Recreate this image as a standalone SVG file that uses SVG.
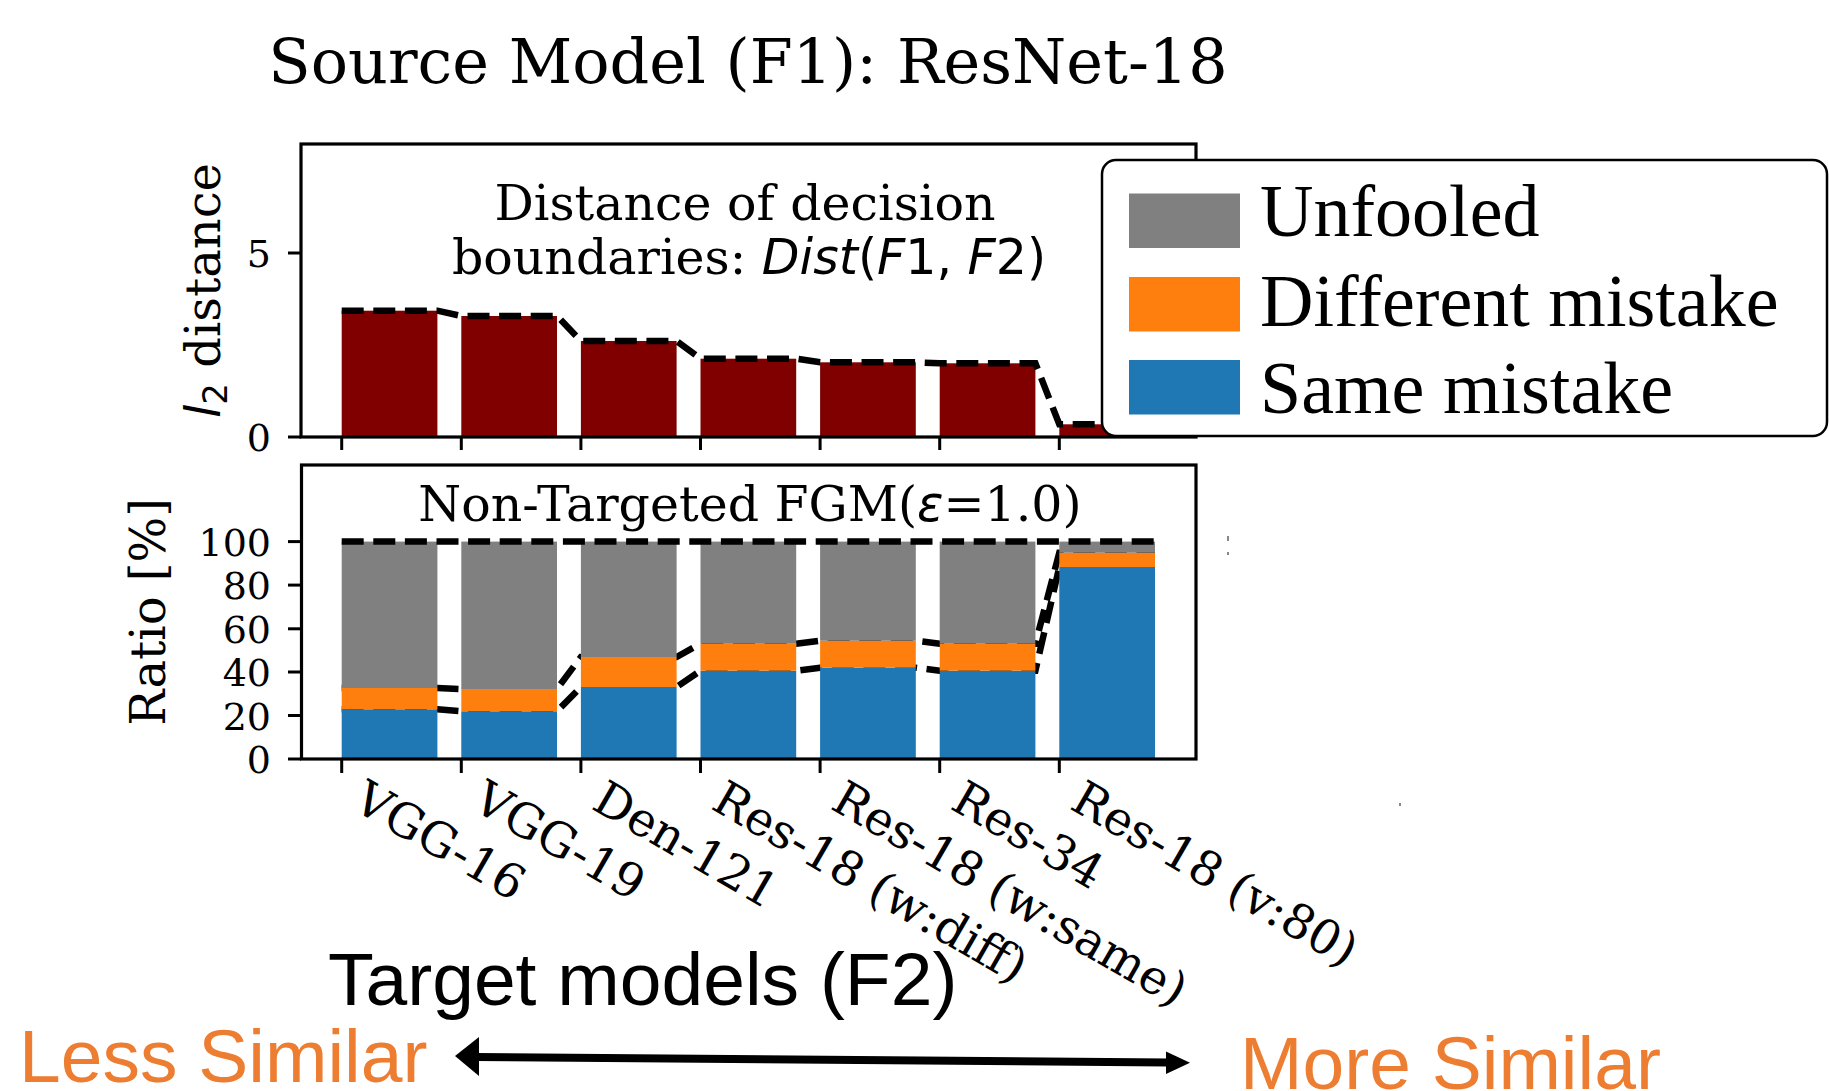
<svg xmlns="http://www.w3.org/2000/svg" width="1829" height="1091" viewBox="0 0 1829 1091">
<style>
  .serif{font-family:"DejaVu Serif",serif}
  .math{font-family:"DejaVu Sans",sans-serif;font-style:italic}
  .up{font-family:"DejaVu Sans",sans-serif;font-style:normal}
  .ytl{font-family:"DejaVu Serif",serif;font-size:38px;text-anchor:end}
  .xtl{font-family:"DejaVu Serif",serif;font-size:47.5px}
  .leg{font-family:"Liberation Serif","Times New Roman",serif;font-size:74px}
  .sans{font-family:"Liberation Sans",Arial,sans-serif}
  .accent{fill:#ED7D31}
  .spine{fill:none;stroke:#000;stroke-width:3.2}
  .tk{stroke:#000;stroke-width:3}
  .dash{fill:none;stroke:#000;stroke-width:6.5;stroke-dasharray:22 9.6}
  .red{fill:#800000}
  .gray{fill:#808080}
  .org{fill:#ff7f0e}
  .blue{fill:#1f77b4}
</style>
<rect width="1829" height="1091" fill="#fff"/>

<!-- title -->
<text id="title" class="serif" font-size="62" x="748" y="83" text-anchor="middle">Source Model (F1): ResNet-18</text>

<!-- upper panel: decision-boundary distance -->
<g id="panel-distance">
  <g id="dist-bars" class="red">
    <rect x="341.7" y="310.7" width="95.7" height="126.3"/>
    <rect x="461.3" y="316" width="95.7" height="121"/>
    <rect x="580.9" y="341" width="95.7" height="96"/>
    <rect x="700.5" y="358.7" width="95.7" height="78.3"/>
    <rect x="820.1" y="362.3" width="95.7" height="74.7"/>
    <rect x="939.7" y="363.3" width="95.7" height="73.7"/>
    <rect x="1059.3" y="424.3" width="95.7" height="12.7"/>
  </g>
  <path class="dash" d="M341.7,310.7 H437.4 L461.3,316 H557 L580.9,341 H676.6 L700.5,358.7 H796.2 L820.1,362.3 H915.8 L939.7,363.3 H1035.4 L1059.3,424.3 H1155"/>
  <rect class="spine" x="301" y="144" width="895" height="293"/>
  <g id="dist-yticks">
    <line class="tk" x1="288" y1="253" x2="301" y2="253"/>
    <line class="tk" x1="288" y1="437" x2="301" y2="437"/>
    <text class="ytl" x="271" y="267">5</text>
    <text class="ytl" x="271" y="451">0</text>
  </g>
  <g id="dist-xticks">
    <line class="tk" x1="341.7" y1="437" x2="341.7" y2="450"/>
    <line class="tk" x1="461.3" y1="437" x2="461.3" y2="450"/>
    <line class="tk" x1="580.9" y1="437" x2="580.9" y2="450"/>
    <line class="tk" x1="700.5" y1="437" x2="700.5" y2="450"/>
    <line class="tk" x1="820.1" y1="437" x2="820.1" y2="450"/>
    <line class="tk" x1="939.7" y1="437" x2="939.7" y2="450"/>
    <line class="tk" x1="1059.3" y1="437" x2="1059.3" y2="450"/>
  </g>
  <text class="serif" font-size="48" text-anchor="middle" transform="translate(220 290.5) rotate(-90)"><tspan class="math">l</tspan><tspan class="up" font-size="34" dy="7">2</tspan><tspan dy="-7"> distance</tspan></text>
  <text class="serif" font-size="49" x="745" y="220" text-anchor="middle">Distance of decision</text>
  <text class="serif" font-size="49" x="749" y="274" text-anchor="middle">boundaries: <tspan class="math">Dist</tspan><tspan class="up">(</tspan><tspan class="math">F</tspan><tspan class="up">1, </tspan><tspan class="math">F</tspan><tspan class="up">2)</tspan></text>
</g>

<!-- lower panel: stacked ratios -->
<g id="panel-ratio">
  <g id="ratio-guides-under">
    <path class="dash" d="M341.7,709.3 H437.4 L461.3,711.3 H557 L580.9,687 H676.6 L700.5,670.7 H796.2 L820.1,667.7 H915.8 L939.7,670.7 H1035.4 L1059.3,567 H1155"/>
    <path class="dash" d="M341.7,688 H437.4 L461.3,689 H557 L580.9,657 H676.6 L700.5,643.7 H796.2 L820.1,640.7 H915.8 L939.7,643.7 H1035.4 L1059.3,552.7 H1155"/>
  </g>
  <g id="ratio-same" class="blue">
    <rect x="341.7" y="709.3" width="95.7" height="49.7"/>
    <rect x="461.3" y="711.3" width="95.7" height="47.7"/>
    <rect x="580.9" y="687" width="95.7" height="72"/>
    <rect x="700.5" y="670.7" width="95.7" height="88.3"/>
    <rect x="820.1" y="667.7" width="95.7" height="91.3"/>
    <rect x="939.7" y="670.7" width="95.7" height="88.3"/>
    <rect x="1059.3" y="567" width="95.7" height="192"/>
  </g>
  <g id="ratio-different" class="org">
    <rect x="341.7" y="688" width="95.7" height="21.3"/>
    <rect x="461.3" y="689" width="95.7" height="22.3"/>
    <rect x="580.9" y="657" width="95.7" height="30"/>
    <rect x="700.5" y="643.7" width="95.7" height="27"/>
    <rect x="820.1" y="640.7" width="95.7" height="27"/>
    <rect x="939.7" y="643.7" width="95.7" height="27"/>
    <rect x="1059.3" y="552.7" width="95.7" height="14.3"/>
  </g>
  <g id="ratio-unfooled" class="gray">
    <rect x="341.7" y="541.6" width="95.7" height="146.4"/>
    <rect x="461.3" y="541.6" width="95.7" height="147.4"/>
    <rect x="580.9" y="541.6" width="95.7" height="115.4"/>
    <rect x="700.5" y="541.6" width="95.7" height="102.1"/>
    <rect x="820.1" y="541.6" width="95.7" height="99.1"/>
    <rect x="939.7" y="541.6" width="95.7" height="102.1"/>
    <rect x="1059.3" y="541.6" width="95.7" height="11.1"/>
  </g>
  <path class="dash" d="M341.7,541.6 H1155"/>
  <rect class="spine" x="301.5" y="465" width="894.5" height="294"/>
  <g id="ratio-yticks">
    <line class="tk" x1="288" y1="759" x2="301" y2="759"/>
    <line class="tk" x1="288" y1="715.5" x2="301" y2="715.5"/>
    <line class="tk" x1="288" y1="672" x2="301" y2="672"/>
    <line class="tk" x1="288" y1="628.8" x2="301" y2="628.8"/>
    <line class="tk" x1="288" y1="585.1" x2="301" y2="585.1"/>
    <line class="tk" x1="288" y1="541.6" x2="301" y2="541.6"/>
    <text class="ytl" x="271" y="773">0</text>
    <text class="ytl" x="271" y="729.5">20</text>
    <text class="ytl" x="271" y="686">40</text>
    <text class="ytl" x="271" y="642.8">60</text>
    <text class="ytl" x="271" y="599.1">80</text>
    <text class="ytl" x="271" y="555.6">100</text>
  </g>
  <g id="ratio-xticks">
    <line class="tk" x1="341.7" y1="759" x2="341.7" y2="773"/>
    <line class="tk" x1="461.3" y1="759" x2="461.3" y2="773"/>
    <line class="tk" x1="580.9" y1="759" x2="580.9" y2="773"/>
    <line class="tk" x1="700.5" y1="759" x2="700.5" y2="773"/>
    <line class="tk" x1="820.1" y1="759" x2="820.1" y2="773"/>
    <line class="tk" x1="939.7" y1="759" x2="939.7" y2="773"/>
    <line class="tk" x1="1059.3" y1="759" x2="1059.3" y2="773"/>
  </g>
  <text class="serif" font-size="48" text-anchor="middle" transform="translate(165 612) rotate(-90)">Ratio [%]</text>
  <text class="serif" font-size="49" x="750" y="521" text-anchor="middle">Non-Targeted FGM(<tspan class="math">ε</tspan>=1.0)</text>
  <g id="model-labels" class="xtl">
    <text transform="translate(350.7 808) rotate(30)">VGG-16</text>
    <text transform="translate(470.3 808) rotate(30)">VGG-19</text>
    <text transform="translate(589.9 808) rotate(30)">Den-121</text>
    <text transform="translate(709.5 808) rotate(30)">Res-18 (w:diff)</text>
    <text transform="translate(829.1 808) rotate(30)">Res-18 (w:same)</text>
    <text transform="translate(948.7 808) rotate(30)">Res-34</text>
    <text transform="translate(1068.3 808) rotate(30)">Res-18 (v:80)</text>
  </g>
</g>

<!-- legend -->
<g id="legend">
  <rect x="1102" y="160" width="725" height="276" rx="14" fill="#fff" stroke="#000" stroke-width="2.5"/>
  <rect class="gray" x="1129" y="193.5" width="111" height="54.5"/>
  <rect class="org" x="1129" y="277" width="111" height="54.5"/>
  <rect class="blue" x="1129" y="360" width="111" height="54.5"/>
  <text class="leg" x="1260" y="236">Unfooled</text>
  <text class="leg" x="1260" y="326">Different mistake</text>
  <text class="leg" x="1260" y="413">Same mistake</text>
</g>

<!-- axis caption and similarity scale -->
<text id="target-caption" class="sans" font-size="75" x="328" y="1005">Target models (F2)</text>
<text id="less-similar" class="sans accent" font-size="75" x="19" y="1082">Less Similar</text>
<text id="more-similar" class="sans accent" font-size="75" x="1240" y="1089">More Similar</text>
<g id="connectors">
  <line x1="475" y1="1057" x2="1168" y2="1062.5" stroke="#000" stroke-width="8"/>
  <polygon points="455,1056 479,1037 479,1076" fill="#000"/>
  <polygon points="1190,1062.7 1166,1051.5 1166,1074" fill="#000"/>
</g>

<!-- small specks -->
<g id="specks" fill="#888">
  <rect x="1227" y="536" width="2" height="5"/>
  <rect x="1227" y="552" width="2" height="3"/>
  <rect x="1399" y="803" width="2" height="3"/>
</g>
</svg>
